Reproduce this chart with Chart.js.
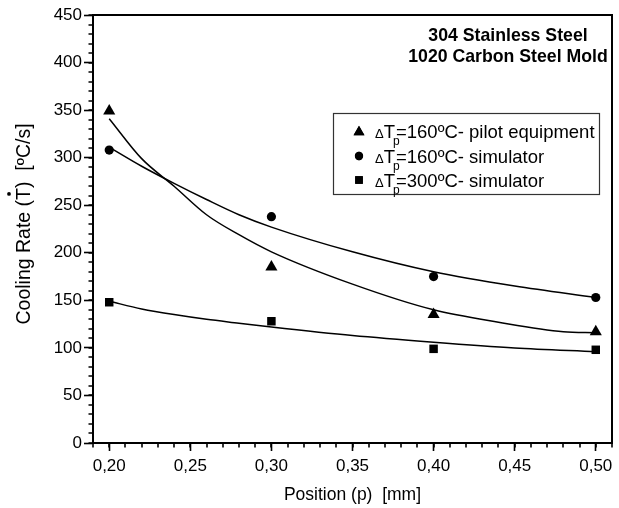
<!DOCTYPE html>
<html><head><meta charset="utf-8">
<script src="https://cdn.jsdelivr.net/npm/chart.js@4/dist/chart.umd.min.js"></script>
<style>html,body{margin:0;padding:0;background:#fff}#wrap{width:619px;height:508px;position:relative}</style>
</head><body><div id="wrap"><canvas id="c"></canvas></div>
<script>
// ---- data ----
const positions = [0.20, 0.30, 0.40, 0.50];
const pilot160 = [349, 185, 135, 117];
const sim160 = [308, 238, 175, 153];
const sim300 = [148, 128, 99, 98];

const fitPilotX = [0.20, 0.22, 0.24, 0.26, 0.28, 0.30, 0.35, 0.40, 0.44, 0.48, 0.50];
const fitPilot160 = [341, 299, 270, 240, 219, 201, 167, 140, 127, 117, 116];
const fitSim160X = [0.20, 0.22, 0.24, 0.26, 0.28, 0.30, 0.35, 0.40, 0.45, 0.50];
const fitSim160   = [311, 291, 273, 256, 240, 227, 201, 180, 165, 153];
const fitSim300X = [0.20, 0.22, 0.24, 0.26, 0.28, 0.30, 0.35, 0.40, 0.45, 0.50];
const fitSim300   = [149, 141, 135, 130, 126, 122, 113, 106, 100, 96];

const xTicks = [0.20, 0.25, 0.30, 0.35, 0.40, 0.45, 0.50];
const yTicks = [0, 50, 100, 150, 200, 250, 300, 350, 400, 450];
const xMinorStep = 0.01;
const yMinorStep = 10;

const seriesLabels = ['\u0394Tp=160\u00baC- pilot equipment', '\u0394Tp=160\u00baC- simulator', '\u0394Tp=300\u00baC- simulator'];
const legendTemps = ['=160\u00baC- pilot equipment', '=160\u00baC- simulator', '=300\u00baC- simulator'];
const markerStyles = ['triangle', 'circle', 'rect'];
const markerRadii = [7, 4.6, 6];
const annotationLines = ['304 Stainless Steel', '1020 Carbon Steel Mold'];
const xTitle = 'Position (p)  [mm]';
const yTitleParts = ['Cooling Rate (', 'T', ')  [\u00baC/s]'];

const FONT = "'Liberation Sans', Arial, sans-serif";

const pts = (xs, ys) => xs.map((v, i) => ({x: v, y: ys[i]}));

const fitDs = (xs, ys) => ({
  data: pts(xs, ys), showLine: true, pointRadius: 0, borderColor: '#000',
  borderWidth: 1.5, cubicInterpolationMode: 'monotone', fill: false, order: 2
});
const markDs = (ys, i) => ({
  label: seriesLabels[i], data: pts(positions, ys), showLine: false,
  pointStyle: markerStyles[i], pointRadius: markerRadii[i], pointHoverRadius: markerRadii[i],
  backgroundColor: '#000', borderColor: '#000', borderWidth: 0, order: 1
});

const decor = {
  id: 'decor',
  afterDraw(chart) {
    const {ctx, chartArea: a, scales: {x, y}} = chart;
    ctx.save();
    // frame
    ctx.strokeStyle = '#000';
    ctx.lineWidth = 2;
    ctx.strokeRect(a.left, a.top, a.right - a.left, a.bottom - a.top);
    // minor ticks
    ctx.lineWidth = 1.6;
    ctx.beginPath();
    for (let k = Math.ceil(x.min / xMinorStep - 1e-6); k * xMinorStep <= x.max + 1e-9; k++) {
      const px = Math.round(x.getPixelForValue(k * xMinorStep));
      ctx.moveTo(px, a.bottom); ctx.lineTo(px, a.bottom + 4.5);
    }
    for (let k = Math.ceil(y.min / yMinorStep); k * yMinorStep <= y.max; k++) {
      const py = Math.round(y.getPixelForValue(k * yMinorStep));
      ctx.moveTo(a.left, py); ctx.lineTo(a.left - 4.5, py);
    }
    ctx.stroke();

    // annotation
    ctx.fillStyle = '#000';
    ctx.font = 'bold 17.7px ' + FONT;
    ctx.textAlign = 'center';
    ctx.textBaseline = 'middle';
    ctx.fillText(annotationLines[0], 508, 36);
    ctx.fillText(annotationLines[1], 508, 57);

    // legend
    ctx.lineWidth = 1.2;
    ctx.strokeStyle = '#333';
    ctx.strokeRect(333.5, 113.5, 266, 81);
    const rows = [131, 156, 180];
    for (let i = 0; i < 3; i++) {
      const ry = rows[i];
      Chart.helpers.drawPoint(ctx, {pointStyle: markerStyles[i], radius: markerRadii[i] * 0.9, borderWidth: 0}, 359, ry + (i === 0 ? 1 : 0));
      ctx.fill();
      ctx.textAlign = 'left';
      ctx.textBaseline = 'alphabetic';
      let tx = 375;
      const base = ry + 6.5;
      ctx.font = '13px ' + FONT;
      ctx.fillText('\u0394', tx, base);
      tx += ctx.measureText('\u0394').width;
      ctx.font = '18.5px ' + FONT;
      ctx.fillText('T', tx, base);
      const tw = ctx.measureText('T').width;
      ctx.font = '12px ' + FONT;
      ctx.fillText('p', tx + tw - 2, base + 7);
      tx += tw + 1;
      ctx.font = '18.5px ' + FONT;
      ctx.fillText(legendTemps[i], tx, base);
    }

    // y title
    ctx.save();
    ctx.translate(30, 224);
    ctx.rotate(-Math.PI / 2);
    ctx.font = '19.5px ' + FONT;
    ctx.textAlign = 'left';
    ctx.textBaseline = 'alphabetic';
    const w0 = ctx.measureText(yTitleParts[0]).width;
    const w1 = ctx.measureText(yTitleParts[1]).width;
    const w2 = ctx.measureText(yTitleParts[2]).width;
    let sx = -(w0 + w1 + w2) / 2;
    ctx.fillText(yTitleParts[0], sx, 0);
    ctx.fillText(yTitleParts[1], sx + w0, 0);
    ctx.fillText(yTitleParts[2], sx + w0 + w1, 0);
    ctx.beginPath();
    ctx.arc(sx + w0 + w1 / 2, -21, 1.9, 0, Math.PI * 2);
    ctx.fill();
    ctx.restore();

    ctx.restore();
  }
};

new Chart(document.getElementById('c'), {
  type: 'scatter',
  data: {
    datasets: [
      fitDs(fitPilotX, fitPilot160), fitDs(fitSim160X, fitSim160), fitDs(fitSim300X, fitSim300),
      markDs(pilot160, 0), markDs(sim160, 1), markDs(sim300, 2)
    ]
  },
  options: {
    responsive: true, maintainAspectRatio: false, animation: false,
    layout: {padding: {left: 0, right: 5, top: 15, bottom: 0}},
    plugins: {legend: {display: false}, tooltip: {enabled: false}},
    scales: {
      x: {
        type: 'linear', min: 0.19, max: 0.51,
        afterBuildTicks: (s) => { s.ticks = xTicks.map(v => ({value: v})); },
        afterFit: (s) => { s.height = 65; },
        ticks: {
          color: '#000', font: {family: FONT, size: 17}, padding: 5, maxRotation: 0, autoSkip: false,
          callback: (v) => Number(v).toFixed(2).replace('.', ',')
        },
        grid: {drawOnChartArea: false, tickLength: 8, tickWidth: 1.6, tickColor: '#000'},
        border: {display: true, color: '#000', width: 2},
        title: {display: true, text: xTitle, color: '#000', font: {family: FONT, size: 17.5}, padding: {top: 0, bottom: 2}}
      },
      y: {
        type: 'linear', min: 0, max: 450,
        afterBuildTicks: (s) => { s.ticks = yTicks.map(v => ({value: v})); },
        afterFit: (s) => { s.width = 93; },
        ticks: {color: '#000', font: {family: FONT, size: 17}, padding: 2, autoSkip: false},
        grid: {drawOnChartArea: false, tickLength: 9, tickWidth: 1.6, tickColor: '#000'},
        border: {display: true, color: '#000', width: 2}
      }
    }
  },
  plugins: [decor]
});
</script>
</body></html>
